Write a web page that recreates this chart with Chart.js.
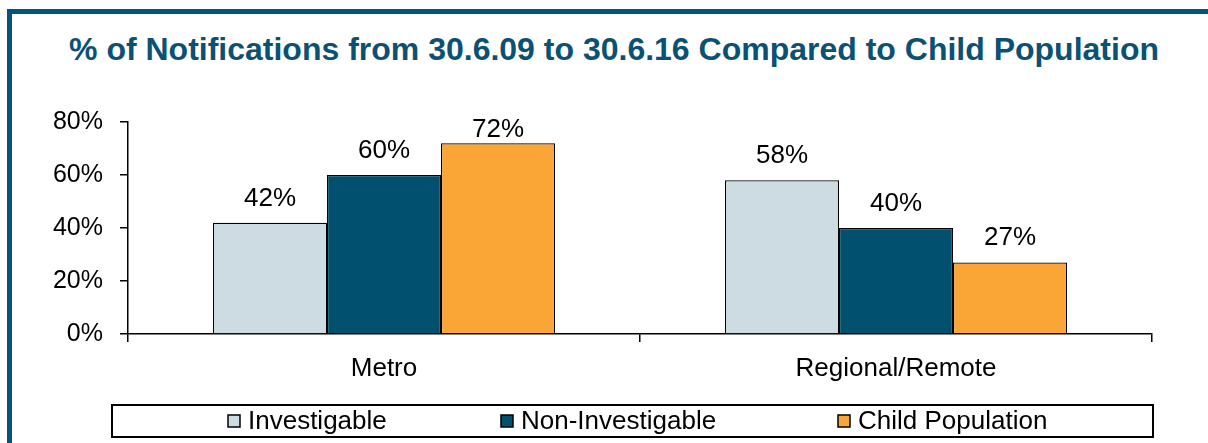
<!DOCTYPE html>
<html>
<head>
<meta charset="utf-8">
<title>% of Notifications Compared to Child Population</title>
<script src="https://cdn.jsdelivr.net/npm/chart.js@4.4.1/dist/chart.umd.min.js"></script>
<style>
  html, body { margin: 0; padding: 0; background: #fff; }
  #wrap { position: relative; width: 1208px; height: 443px; overflow: hidden; }
  /* cadre bleu (haut + gauche) */
  #frame {
    position: absolute; left: 7px; top: 9px; right: -20px; bottom: -20px;
    border-top: 5px solid #03557a; border-left: 5px solid #03557a;
  }
  #title {
    position: absolute; left: 0; width: 1228px; top: 31px;
    text-align: center; color: #0b5173;
    font: bold 32px "Liberation Sans", Arial, sans-serif;
  }
  canvas { position: absolute; left: 0; top: 0; }
</style>
</head>
<body>
<div id="wrap">
  <div id="frame"></div>
  <div id="title">% of Notifications from 30.6.09 to 30.6.16 Compared to Child Population</div>
  <canvas id="notifChart" width="1208" height="443"></canvas>
</div>
<script>
// Dados do gráfico
const categories = ['Metro', 'Regional/Remote'];
const seriesNames = ['Investigable', 'Non-Investigable', 'Child Population'];
const investigable = [42, 58];
const nonInvestigable = [60, 40];
const childPopulation = [72, 27];
const yTicks = [0, 20, 40, 60, 80];

const colors = ['#cddce3', '#02506f', '#f9a637'];
const FONT = '"Liberation Sans", Arial, sans-serif';

// Rótulos de valor acima das barras (presos dentro da área do gráfico, como no Excel)
const barLabels = {
  id: 'barLabels',
  afterDatasetsDraw(chart) {
    const ctx = chart.ctx;
    const minBase = chart.chartArea.top + 15;
    ctx.save();
    ctx.font = '26px ' + FONT;
    ctx.fillStyle = '#000';
    ctx.textAlign = 'center';
    ctx.textBaseline = 'alphabetic';
    chart.data.datasets.forEach((ds, i) => {
      chart.getDatasetMeta(i).data.forEach((bar, j) => {
        ctx.fillText(ds.data[j] + '%', bar.x, Math.max(bar.y - 17, minBase));
      });
    });
    ctx.restore();
  }
};

// Legenda em caixa, estilo Excel
const boxLegend = {
  id: 'boxLegend',
  afterDraw(chart) {
    const ctx = chart.ctx;
    const itemX = [228, 501, 838];
    ctx.save();
    ctx.strokeStyle = '#000';
    ctx.lineWidth = 2;
    ctx.strokeRect(112, 405, 1041, 32);
    ctx.font = '26px ' + FONT;
    ctx.textBaseline = 'middle';
    ctx.textAlign = 'left';
    chart.data.datasets.forEach((ds, i) => {
      const x = itemX[i];
      ctx.fillStyle = ds.backgroundColor;
      ctx.fillRect(x, 415, 12, 12);
      ctx.lineWidth = 1.5;
      ctx.strokeRect(x, 415, 12, 12);
      ctx.fillStyle = '#000';
      ctx.fillText(ds.label, x + 20, 422);
    });
    ctx.restore();
  }
};

function initChart() {
  const ctx = document.getElementById('notifChart').getContext('2d');
  const values = [investigable, nonInvestigable, childPopulation];
  new Chart(ctx, {
    type: 'bar',
    data: {
      labels: categories,
      datasets: seriesNames.map((name, i) => ({
        label: name,
        data: values[i],
        backgroundColor: colors[i],
        borderColor: '#000',
        borderWidth: 1.2,
        categoryPercentage: 0.668,
        barPercentage: 1
      }))
    },
    options: {
      responsive: false,
      animation: false,
      layout: { padding: { left: 48, right: 56, top: 122, bottom: 49 } },
      plugins: {
        legend: { display: false },
        title: { display: false },
        tooltip: { enabled: false }
      },
      scales: {
        y: {
          min: 0,
          max: 80,
          afterFit: s => { s.width = 80; },
          afterBuildTicks: s => { s.ticks = yTicks.map(v => ({ value: v })); },
          ticks: {
            color: '#000',
            padding: 17,
            font: { family: FONT, size: 25 },
            callback: v => v + '%'
          },
          grid: { drawOnChartArea: false, drawTicks: true, tickLength: 8, color: '#000', lineWidth: 1.5 },
          border: { color: '#000', width: 1.5 }
        },
        x: {
          afterFit: s => { s.height = 60; },
          ticks: {
            color: '#000',
            padding: 11,
            font: { family: FONT, size: 26 }
          },
          grid: { offset: true, drawOnChartArea: false, drawTicks: true, tickLength: 8, color: '#000', lineWidth: 1.5 },
          border: { color: '#000', width: 1.5 }
        }
      }
    },
    plugins: [barLabels, boxLegend]
  });
}

window.onload = initChart;
</script>
</body>
</html>
